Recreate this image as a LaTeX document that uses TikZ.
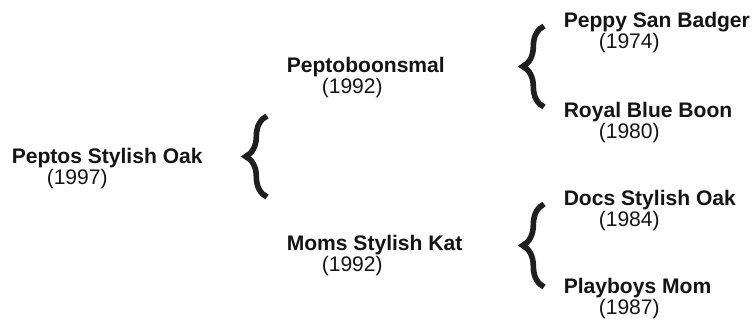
\documentclass[tikz,border=0pt]{standalone}
\usepackage{fontspec}
\setmainfont{Liberation Sans}
\usetikzlibrary{decorations.pathreplacing}

\begin{document}
\begin{tikzpicture}[x=0.75pt,y=-0.75pt,
    horse/.style={anchor=base west, inner sep=0pt, text=black!92,
      font=\fontsize{15.8}{18}\selectfont\bfseries},
    yearlbl/.style={anchor=base west, inner sep=0pt, text=black!92,
      font=\fontsize{15.8}{18}\selectfont},
    parents/.style={decorate, decoration={brace, amplitude=16pt},
      line width=4.2pt, draw=black!88}]
    \useasboundingbox (0,0) rectangle (755,321);
    \foreach \id/\horse/\yr/\x/\y in {pso/Peptos Stylish Oak/1997/11.5/163,
        pbs/Peptoboonsmal/1992/286.5/72, msk/Moms Stylish Kat/1992/286.5/250,
        psb/Peppy San Badger/1974/563.5/28, rbb/Royal Blue Boon/1980/563.5/117,
        dso/Docs Stylish Oak/1984/563.5/205, pbm/Playboys Mom/1987/563.5/293}{
      \node[horse] (\id) at (\x,\y) {\horse};
      \node[yearlbl] (\id-yr) at (\x+35,\y+21) {(\yr)};
    }
    \coordinate (pso-lo) at (267,197);
    \coordinate (pso-hi) at (267,116);
    \coordinate (pbs-lo) at (544,107);
    \coordinate (pbs-hi) at (544,26);
    \coordinate (msk-lo) at (544,287);
    \coordinate (msk-hi) at (544,204);
    \draw[parents] (pso-lo) -- (pso-hi);
    \draw[parents] (pbs-lo) -- (pbs-hi);
    \draw[parents] (msk-lo) -- (msk-hi);
  \end{tikzpicture}
\end{document}
